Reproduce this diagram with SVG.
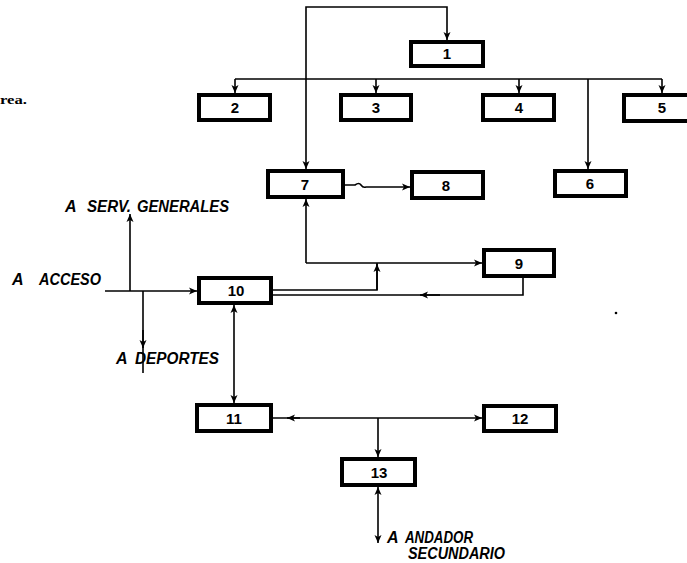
<svg xmlns="http://www.w3.org/2000/svg" width="687" height="563" viewBox="0 0 687 563">
<defs>
<marker id="ah" markerWidth="9" markerHeight="9" refX="8" refY="4.5" orient="auto" markerUnits="userSpaceOnUse">
<path d="M0,1 L8,4.5 L0,8 L2,4.5 Z" fill="#000"/>
</marker>
<marker id="ahs" markerWidth="9" markerHeight="9" refX="8" refY="4.5" orient="auto-start-reverse" markerUnits="userSpaceOnUse">
<path d="M0,1 L8,4.5 L0,8 L2,4.5 Z" fill="#000"/>
</marker>
</defs>
<style>
.box{fill:#fff;stroke:#000;stroke-width:4}
.num{font-family:"Liberation Sans",Arial,sans-serif;font-weight:bold;font-size:15px;text-anchor:middle;fill:#000}
.lbl{font-family:"Liberation Sans",Arial,sans-serif;font-weight:bold;font-style:italic;font-size:16px;fill:#000}
.ln{fill:none;stroke:#000;stroke-width:1.6}
.arr{marker-end:url(#ah)}
</style>
<rect width="687" height="563" fill="#fff"/>

<g id="connectors">
<path class="ln arr" d="M376,7 H447 V40"/>
<path class="ln arr" d="M376,7 H306 V169"/>
<path class="ln" d="M235,79 H662"/>
<path class="ln arr" d="M235,79 V93"/>
<path class="ln arr" d="M376,79 V93"/>
<path class="ln arr" d="M519,79 V93"/>
<path class="ln arr" d="M662,79 V93"/>
<path class="ln arr" d="M588,79 V169"/>
<path class="ln arr" d="M345,185 H355 Q359,182 361,185 T366,187 H410"/>
<path class="ln arr" d="M306,263 V199"/>
<path class="ln arr" d="M306,263 H482"/>
<path class="ln" d="M273,290 H377 V263"/>
<path class="ln arr" d="M377,290 V264"/>
<path class="ln" d="M523,278 V295 H273"/>
<path class="ln arr" d="M440,295 H420"/>
<path class="ln arr" d="M105,291 H197"/>
<path class="ln arr" d="M130,291 V214"/>
<path class="ln" d="M143,291 V373"/>
<path class="ln arr" d="M143,330 V348"/>
<path class="ln" d="M234,305 V403" marker-start="url(#ahs)" marker-end="url(#ahs)"/>
<path class="ln arr" d="M378,418 H482"/>
<path class="ln" d="M378,418 H273"/>
<path class="ln arr" d="M300,418 H287"/>
<path class="ln arr" d="M378,418 V457"/>
<path class="ln" d="M378,487 V543" marker-start="url(#ahs)" marker-end="url(#ahs)"/>
</g>

<g id="n1"><rect class="box" x="411" y="42" width="72" height="24"/><text class="num" x="447" y="59">1</text></g>
<g id="n2"><rect class="box" x="199" y="95" width="71" height="25"/><text class="num" x="235" y="113">2</text></g>
<g id="n3"><rect class="box" x="341" y="95" width="70" height="25"/><text class="num" x="376" y="113">3</text></g>
<g id="n4"><rect class="box" x="483" y="95" width="71" height="25"/><text class="num" x="519" y="113">4</text></g>
<g id="n5"><rect class="box" x="624" y="95" width="70" height="26"/><text class="num" x="662" y="113">5</text></g>
<g id="n6"><rect class="box" x="555" y="171" width="71" height="25"/><text class="num" x="590" y="189">6</text></g>
<g id="n7"><rect class="box" x="268" y="171" width="75" height="26"/><text class="num" x="305" y="190">7</text></g>
<g id="n8"><rect class="box" x="412" y="172" width="71" height="26"/><text class="num" x="446" y="191">8</text></g>
<g id="n9"><rect class="box" x="484" y="250" width="70" height="26"/><text class="num" x="519" y="269">9</text></g>
<g id="n10"><rect class="box" x="199" y="278" width="72" height="25"/><text class="num" x="236" y="296">10</text></g>
<g id="n11"><rect class="box" x="197" y="405" width="74" height="26"/><text class="num" x="234" y="424">11</text></g>
<g id="n12"><rect class="box" x="484" y="406" width="72" height="25"/><text class="num" x="520" y="424">12</text></g>
<g id="n13"><rect class="box" x="342" y="459" width="73" height="26"/><text class="num" x="379" y="478">13</text></g>

<g id="labels">
<text font-family="Liberation Serif,serif" font-weight="bold" font-size="13" x="0" y="104" textLength="27" lengthAdjust="spacingAndGlyphs">rea.</text>
<text class="lbl" x="12" y="285">A</text>
<text class="lbl" x="39" y="285" textLength="62" lengthAdjust="spacingAndGlyphs">ACCESO</text>
<text class="lbl" x="65" y="212">A</text>
<text class="lbl" x="87" y="212" textLength="44" lengthAdjust="spacingAndGlyphs">SERV.</text>
<text class="lbl" x="137" y="212" textLength="92" lengthAdjust="spacingAndGlyphs">GENERALES</text>
<text class="lbl" x="116" y="364">A</text>
<text class="lbl" x="135" y="364" textLength="84" lengthAdjust="spacingAndGlyphs">DEPORTES</text>
<text class="lbl" x="387" y="543">A</text>
<text class="lbl" x="405" y="543" textLength="68" lengthAdjust="spacingAndGlyphs">ANDADOR</text>
<text class="lbl" x="408" y="559" textLength="97" lengthAdjust="spacingAndGlyphs">SECUNDARIO</text>
</g>
<circle cx="616" cy="313" r="1.3" fill="#000"/>
</svg>
